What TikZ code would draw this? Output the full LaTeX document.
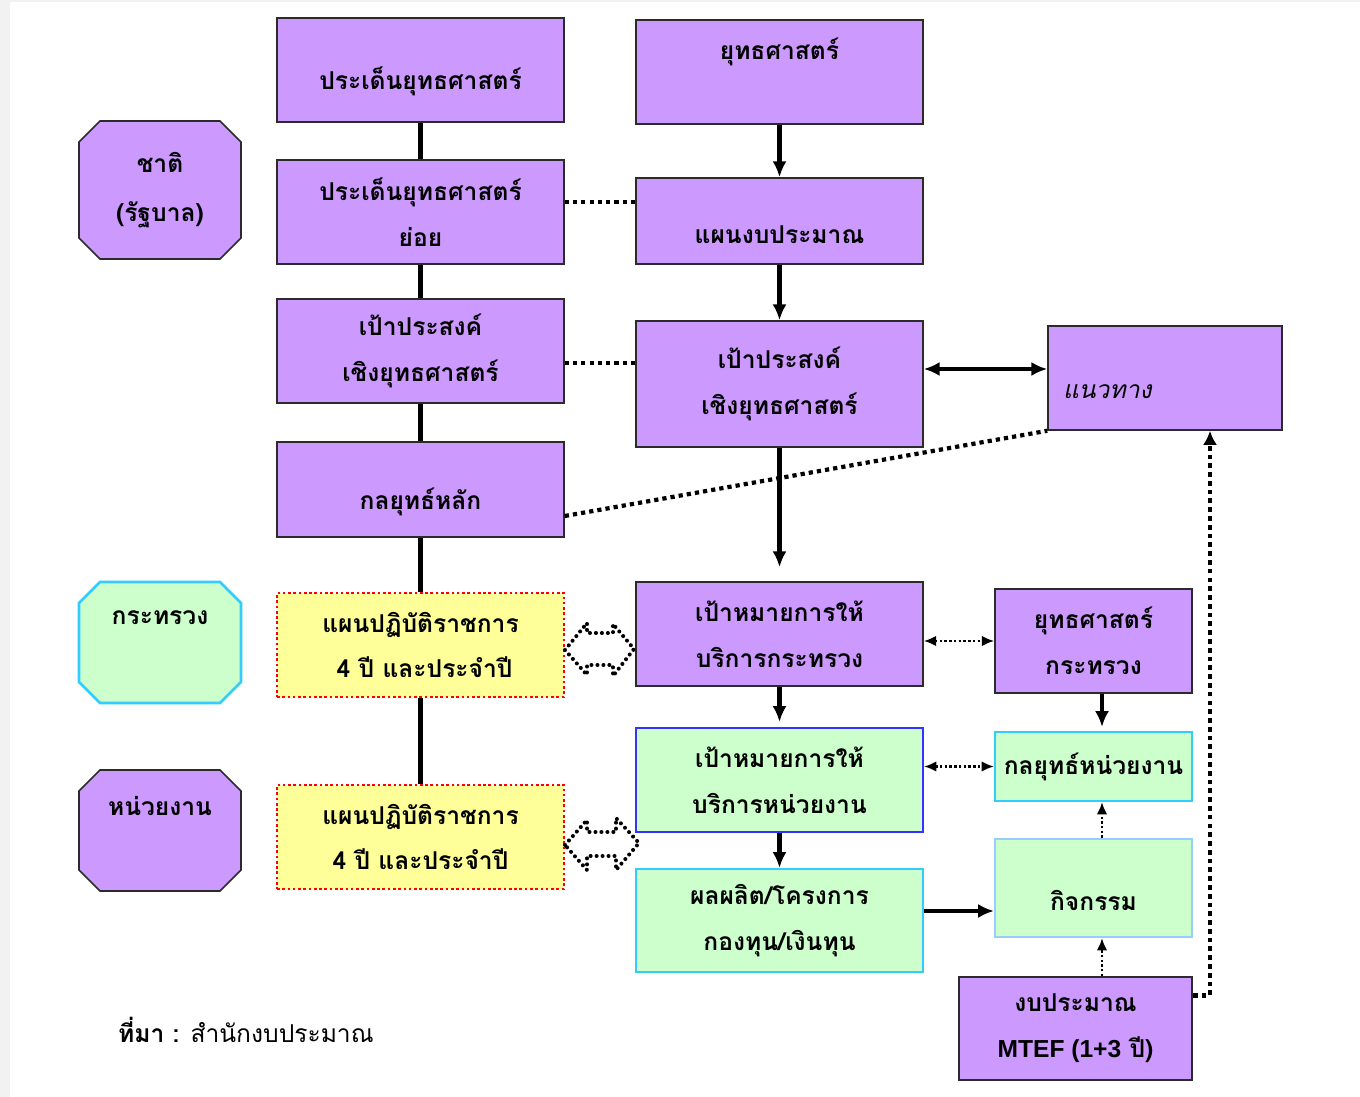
\documentclass[tikz,border=0pt]{standalone}
\usepackage{fontspec}
\setmainfont[Script=Thai]{Loma}
\newfontfamily\latinfont{Liberation Sans}
\usetikzlibrary{shapes.misc,arrows.meta}

\definecolor{boxpurple}{HTML}{CC99FF}
\definecolor{boxgreen}{HTML}{CCFFCC}
\definecolor{boxyellow}{HTML}{FFFF99}
\definecolor{edgecyan}{HTML}{33CCFF}
\definecolor{edgeblue}{HTML}{3333FF}
\definecolor{edgesky}{HTML}{99CCFF}
\definecolor{edgegray}{HTML}{2B2B2B}

\tikzset{
  box/.style={rectangle, minimum width=5.74cm, minimum height=2.08cm, align=center, inner sep=0pt,
    font=\fontsize{14}{26}\selectfont\bfseries},
  purplebox/.style={box, fill=boxpurple, draw=edgegray, line width=0.9pt},
  greenbox/.style={box, fill=boxgreen, draw=edgecyan, line width=1.2pt},
  yellowbox/.style={box, fill=boxyellow, draw=red, line width=1.5pt, dash pattern=on 1.5pt off 1.5pt},
  octa/.style={chamfered rectangle, chamfered rectangle xsep=0.21cm, chamfered rectangle ysep=0.21cm,
    minimum width=3.24cm, minimum height=2.42cm, align=center, inner sep=0pt,
    font=\fontsize{14}{28}\selectfont\bfseries},
  link/.style={line width=2.7pt},
  flow/.style={line width=2.6pt, -{Latex[length=9pt,width=8pt]}},
  twoway/.style={line width=2.6pt, {Latex[length=9pt,width=8pt]}-{Latex[length=9pt,width=8pt]}},
  dots/.style={line width=2.4pt, dash pattern=on 2.4pt off 2.3pt},
  bigdots/.style={line width=2.7pt, dash pattern=on 2.7pt off 2.3pt, -{Latex[length=8pt,width=8pt]}},
  thindots/.style={line width=1.4pt, dash pattern=on 1.4pt off 1.3pt,
    {Latex[length=7pt,width=6pt]}-{Latex[length=7pt,width=6pt]}},
  updots/.style={line width=1.4pt, dash pattern=on 1.4pt off 1.3pt, -{Latex[length=7pt,width=6pt]}},
  hollow/.style={line width=2.3pt, line cap=round, dash pattern=on 0pt off 3.4pt, line join=round}
}

\begin{document}
\begin{tikzpicture}[x=0.02cm, y=-0.02cm]
\useasboundingbox (0,0) rectangle (1360,1097);
\fill[gray!10] (0,0) rectangle (1360,1097);
\fill[white] (10,2) rectangle (1360,1097);

\node[octa, fill=boxpurple, draw=edgegray, line width=0.9pt, minimum height=2.76cm] (nation) at (160,190) {ชาติ\\(รัฐบาล)};
\node[octa, fill=boxgreen, draw=edgecyan, line width=1.5pt] (ministry) at (160,642.5) {กระทรวง\\\mbox{}};
\node[octa, fill=boxpurple, draw=edgegray, line width=0.9pt] (agency) at (160,830.5) {หน่วยงาน\\\mbox{}};

\node[purplebox] (issue) at (420.5,70) {\mbox{}\\ประเด็นยุทธศาสตร์};
\node[purplebox] (subissue) at (420.5,212) {ประเด็นยุทธศาสตร์\\ย่อย};
\node[purplebox] (goal) at (420.5,351) {เป้าประสงค์\\เชิงยุทธศาสตร์};
\node[purplebox, minimum height=1.9cm] (corestrat) at (420.5,489.5) {\mbox{}\\กลยุทธ์หลัก};
\node[yellowbox] (opplan) at (420.5,645) {แผนปฏิบัติราชการ\\\ 4 ปี และประจำปี};
\node[yellowbox] (opplantwo) at (420.5,837) {แผนปฏิบัติราชการ\\4 ปี และประจำปี};

\node[purplebox] (strategy) at (779.5,72) {ยุทธศาสตร์\\\mbox{}};
\node[purplebox, minimum height=1.72cm] (budgetplan) at (779.5,221) {\mbox{}\\แผนงบประมาณ};
\node[purplebox, minimum height=2.52cm] (goalr) at (779.5,384) {เป้าประสงค์\\เชิงยุทธศาสตร์};
\node[purplebox] (svcmin) at (779.5,634) {เป้าหมายการให้\\บริการกระทรวง};
\node[greenbox, draw=edgeblue] (svcagency) at (779.5,780) {เป้าหมายการให้\\บริการหน่วยงาน};
\node[greenbox, minimum height=2.06cm] (output) at (779.5,920.5) {ผลผลิต/โครงการ\\กองทุน/เงินทุน};

\node[purplebox, minimum width=4.68cm, text width=4.08cm, inner xsep=0.3cm, align=left,
  text height=0.9cm, text depth=0.06cm,
  font=\fontsize{14}{26}\selectfont\itshape] (approach) at (1165,378) {แนวทาง};
\node[purplebox, minimum width=3.94cm] (ministrat) at (1093.5,641) {ยุทธศาสตร์\\กระทรวง};
\node[greenbox, minimum width=3.94cm, minimum height=1.38cm] (agencystrat) at (1093.5,766.5) {กลยุทธ์หน่วยงาน};
\node[greenbox, draw=edgesky, minimum width=3.94cm, minimum height=1.96cm] (activity) at (1093.5,888) {\mbox{}\\กิจกรรม};
\node[purplebox, minimum width=4.66cm, minimum height=2.06cm] (mtef) at (1075.5,1028.5) {งบประมาณ\\{\latinfont MTEF (1+3} ปี)};

\node[anchor=west, font=\fontsize{14}{20}\selectfont] (source) at (112,1030) {\textbf{ที่มา :} สำนักงบประมาณ};

\draw[link] (issue) -- (subissue);
\draw[link] (subissue) -- (goal);
\draw[link] (goal) -- (corestrat);
\draw[link] (corestrat) -- (opplan);
\draw[link] (opplan) -- (opplantwo);

\draw[flow] (strategy) -- (budgetplan);
\draw[flow] (budgetplan) -- (goalr);
\draw[flow, shorten >=0.28cm] (goalr) -- (svcmin);
\draw[flow, shorten >=0.1cm] (svcmin) -- (svcagency);
\draw[flow] (svcagency) -- (output);

\coordinate (d1) at ([yshift=0.2cm]subissue.east);
\draw[dots] (d1) -- (d1 -| budgetplan.west);
\coordinate (d2) at ([yshift=-0.24cm]goal.east);
\draw[dots] (d2) -- (d2 -| goalr.west);
\draw[dots] ([yshift=-0.53cm]corestrat.east) -- (approach.south west);

\coordinate (d3) at ([yshift=0.3cm]goalr.east);
\draw[twoway] (d3) -- (d3 -| approach.west);
\draw[thindots] (svcmin.east |- ministrat.west) -- (ministrat.west);
\draw[thindots] (svcagency.east |- agencystrat.west) -- (agencystrat.west);

\coordinate (kx) at ([xshift=0.17cm]activity.south);
\draw[flow, shorten >=0.08cm] (kx |- ministrat.south) -- (kx |- agencystrat.north);
\draw[updots] (kx |- activity.north) -- (kx |- agencystrat.south);
\draw[updots] (kx |- mtef.north) -- (kx);
\coordinate (d4) at ([yshift=0.19cm]output.east);
\draw[flow] (d4) -- (d4 -| activity.west);
\coordinate (d5) at ([yshift=0.66cm]mtef.east);
\coordinate (nx) at ([xshift=0.9cm]approach.south);
\draw[bigdots] (d5) -| (nx);

\draw[hollow] (565,650) -- (587,623) -- (587,633) -- (613,633) -- (613,624) -- (634,649)
  -- (613,676) -- (613,665) -- (587,665) -- (587,675) -- cycle;
\draw[hollow] (565,845) -- (587,820) -- (587,832) -- (616,832) -- (616,818) -- (639,843)
  -- (616,870) -- (616,856) -- (587,856) -- (587,870) -- cycle;
\end{tikzpicture}
\end{document}
